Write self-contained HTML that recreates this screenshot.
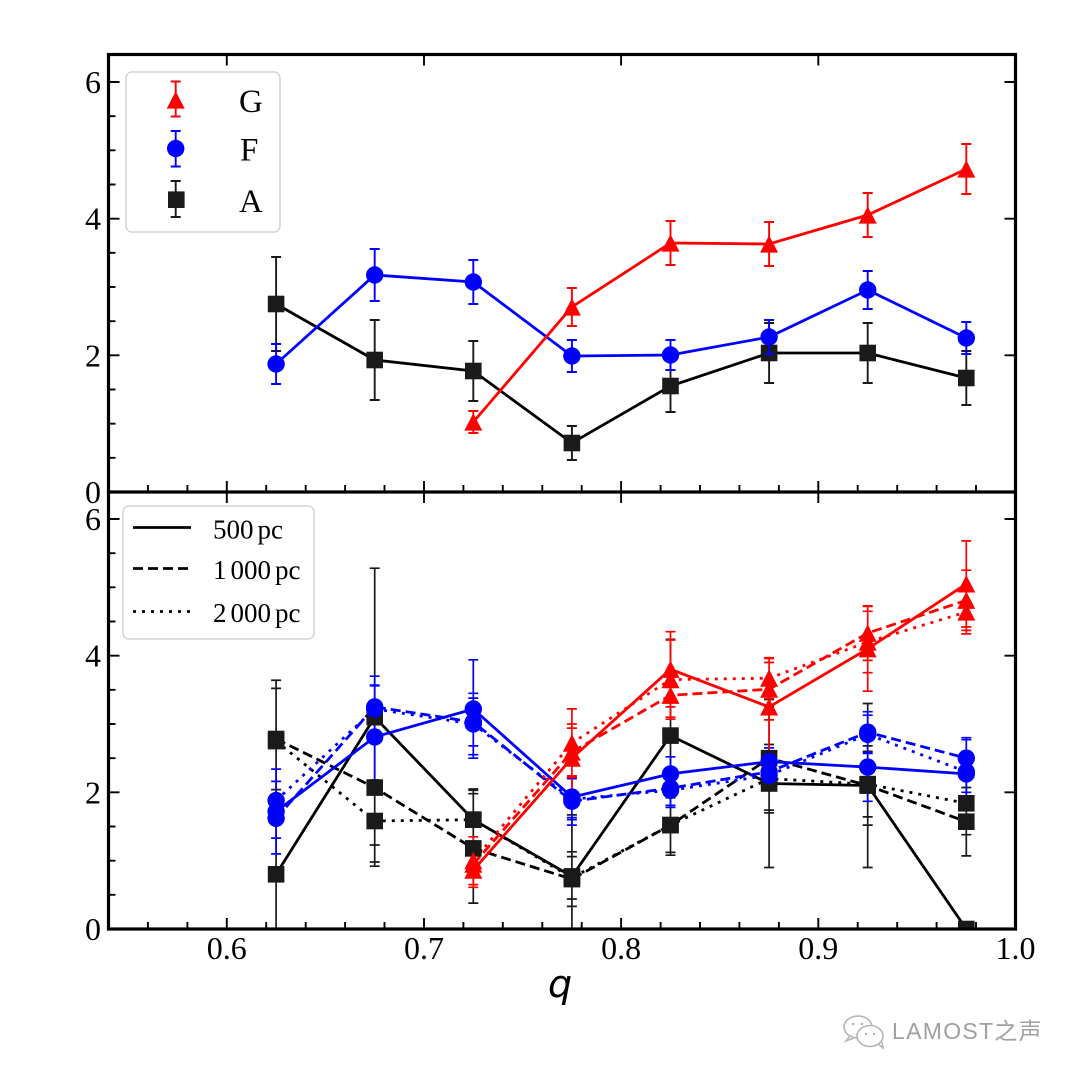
<!DOCTYPE html>
<html><head><meta charset="utf-8"><style>
html,body{margin:0;padding:0;background:#fff;}
svg{display:block;}
.tl{font-family:"Liberation Serif","DejaVu Serif",serif;font-size:32px;fill:#000;}
.lg{font-family:"Liberation Serif","DejaVu Serif",serif;font-size:27px;fill:#000;}
.lt{font-family:"Liberation Serif","DejaVu Serif",serif;font-size:33px;fill:#000;}
</style></head><body>
<svg width="1080" height="1080" viewBox="0 0 1080 1080" xmlns="http://www.w3.org/2000/svg">
<defs>
<clipPath id="cb"><rect x="108.5" y="492" width="907" height="437"/></clipPath>
<clipPath id="ct"><rect x="108.5" y="54.5" width="907" height="437.5"/></clipPath>
<rect id="sq" x="-8.3" y="-8.3" width="16.6" height="16.6" fill="#1a1a1a"/>
<circle id="ci" r="8.7" fill="#0000ff"/>
<polygon id="tr" points="0,-8.8 -9,8.6 9,8.6" fill="#ff0000"/>
</defs>
<rect width="1080" height="1080" fill="#fff"/>

<!-- TOP PANEL DATA -->
<g clip-path="url(#ct)">
<path fill="none" stroke="#1a1a1a" stroke-width="1.9" d="M276.1 257V351M271.1 257h10M271.1 351h10M374.7 320V400M369.7 320h10M369.7 400h10M473.3 341V401M468.3 341h10M468.3 401h10M571.9 426V460M566.9 426h10M566.9 460h10M670.5 360V412M665.5 360h10M665.5 412h10M769.1 323V383M764.1 323h10M764.1 383h10M867.7 323V383M862.7 323h10M862.7 383h10M966.3 351V405M961.3 351h10M961.3 405h10"/>
<polyline fill="none" stroke="#000" stroke-width="2.8" points="276.1,304 374.7,360 473.3,371 571.9,443 670.5,386 769.1,353 867.7,353 966.3,378"/>
<g><use href="#sq" x="276.1" y="304"/><use href="#sq" x="374.7" y="360"/><use href="#sq" x="473.3" y="371"/><use href="#sq" x="571.9" y="443"/><use href="#sq" x="670.5" y="386"/><use href="#sq" x="769.1" y="353"/><use href="#sq" x="867.7" y="353"/><use href="#sq" x="966.3" y="378"/></g>
<path fill="none" stroke="#0000ff" stroke-width="1.9" d="M276.1 344V384M271.1 344h10M271.1 384h10M374.7 249V301M369.7 249h10M369.7 301h10M473.3 260V304M468.3 260h10M468.3 304h10M571.9 340V372M566.9 340h10M566.9 372h10M670.5 340V370M665.5 340h10M665.5 370h10M769.1 320V354M764.1 320h10M764.1 354h10M867.7 271V309M862.7 271h10M862.7 309h10M966.3 322V354M961.3 322h10M961.3 354h10"/>
<polyline fill="none" stroke="#0000ff" stroke-width="2.8" points="276.1,364 374.7,275 473.3,282 571.9,356 670.5,355 769.1,337 867.7,290 966.3,338"/>
<g><use href="#ci" x="276.1" y="364"/><use href="#ci" x="374.7" y="275"/><use href="#ci" x="473.3" y="282"/><use href="#ci" x="571.9" y="356"/><use href="#ci" x="670.5" y="355"/><use href="#ci" x="769.1" y="337"/><use href="#ci" x="867.7" y="290"/><use href="#ci" x="966.3" y="338"/></g>
<path fill="none" stroke="#ff0000" stroke-width="1.9" d="M473.3 411V433M468.3 411h10M468.3 433h10M571.9 288V326M566.9 288h10M566.9 326h10M670.5 221V265M665.5 221h10M665.5 265h10M769.1 222V266M764.1 222h10M764.1 266h10M867.7 193V237M862.7 193h10M862.7 237h10M966.3 144V194M961.3 144h10M961.3 194h10"/>
<polyline fill="none" stroke="#ff0000" stroke-width="2.8" points="473.3,422 571.9,307 670.5,243 769.1,244 867.7,215 966.3,169"/>
<g><use href="#tr" x="473.3" y="422"/><use href="#tr" x="571.9" y="307"/><use href="#tr" x="670.5" y="243"/><use href="#tr" x="769.1" y="244"/><use href="#tr" x="867.7" y="215"/><use href="#tr" x="966.3" y="169"/></g>
</g>

<!-- BOTTOM PANEL DATA -->
<g clip-path="url(#cb)">
<path fill="none" stroke="#1a1a1a" stroke-width="1.7" d="
M276.1 680.2V935M271.1 680.2h10
M374.7 568.2V866.2M369.7 568.2h10M369.7 866.2h10
M473.3 790.3V849.1M468.3 790.3h10M468.3 849.1h10
M571.9 814.9V935M566.9 814.9h10
M670.5 639.3V831.9M665.5 639.3h10M665.5 831.9h10
M769.1 699.5V867.5M764.1 699.5h10M764.1 867.5h10
M867.7 703.5V867.5M862.7 703.5h10M862.7 867.5h10
M276.1 688.4V789.6M271.1 688.4h10M271.1 789.6h10
M374.7 730.2V845M369.7 730.2h10M369.7 845h10
M473.3 793.7V903.1M468.3 793.7h10M468.3 903.1h10
M571.9 851.8V906.4M566.9 851.8h10M566.9 906.4h10
M670.5 795V855.2M665.5 795h10M665.5 855.2h10
M769.1 706.3V810.1M764.1 706.3h10M764.1 810.1h10
M867.7 745.9V825.1M862.7 745.9h10M862.7 825.1h10
M966.3 787.5V855.9M961.3 787.5h10M961.3 855.9h10
M276.1 680.3V801.9M271.1 680.3h10M271.1 801.9h10
M374.7 780V862M369.7 780h10M369.7 862h10
M473.3 789V850.4M468.3 789h10M468.3 850.4h10
M571.9 856.6V899M566.9 856.6h10M566.9 899h10
M670.5 797.8V852.4M665.5 797.8h10M665.5 852.4h10
M769.1 744.5V812.9M764.1 744.5h10M764.1 812.9h10
M867.7 751.3V816.9M862.7 751.3h10M862.7 816.9h10
M966.3 771.9V834.7M961.3 771.9h10M961.3 834.7h10"/>
<path fill="none" stroke="#0000ff" stroke-width="1.7" d="
M276.1 769.1V853.9M271.1 769.1h10M271.1 853.9h10
M374.7 685.8V788.2M369.7 685.8h10M369.7 788.2h10
M473.3 659.8V758.2M468.3 659.8h10M468.3 758.2h10
M571.9 776.6V817.6M566.9 776.6h10M566.9 817.6h10
M670.5 756.8V791M665.5 756.8h10M665.5 791h10
M769.1 747.9V775.3M764.1 747.9h10M764.1 775.3h10
M867.7 732.9V801.3M862.7 732.9h10M862.7 801.3h10
M966.3 739.7V808.1M961.3 739.7h10M961.3 808.1h10
M276.1 798.5V838.1M271.1 798.5h10M271.1 838.1h10
M374.7 676.2V737.6M369.7 676.2h10M369.7 737.6h10
M473.3 698.1V745.9M468.3 698.1h10M468.3 745.9h10
M571.9 777.3V825.1M566.9 777.3h10M566.9 825.1h10
M670.5 771.1V805.3M665.5 771.1h10M665.5 805.3h10
M769.1 758.1V785.5M764.1 758.1h10M764.1 785.5h10
M867.7 711.7V752.7M862.7 711.7h10M862.7 752.7h10
M966.3 737.7V778.7M961.3 737.7h10M961.3 778.7h10
M276.1 781.4V819.6M271.1 781.4h10M271.1 819.6h10
M374.7 685.1V732.9M369.7 685.1h10M369.7 732.9h10
M473.3 693.3V754.7M468.3 693.3h10M468.3 754.7h10
M571.9 778.7V819.7M566.9 778.7h10M566.9 819.7h10
M670.5 773.2V807.4M665.5 773.2h10M665.5 807.4h10
M769.1 760.3V790.3M764.1 760.3h10M764.1 790.3h10
M867.7 715.2V753.4M862.7 715.2h10M862.7 753.4h10
M966.3 751.3V792.3M961.3 751.3h10M961.3 792.3h10"/>
<path fill="none" stroke="#ff0000" stroke-width="1.7" d="
M473.3 853.1V887.3M468.3 853.1h10M468.3 887.3h10
M571.9 724V792.4M566.9 724h10M566.9 792.4h10
M670.5 631.7V706.9M665.5 631.7h10M665.5 706.9h10
M769.1 662.5V751.3M764.1 662.5h10M764.1 751.3h10
M867.7 606.4V691.2M862.7 606.4h10M862.7 691.2h10
M966.3 540.9V626.9M961.3 540.9h10M961.3 626.9h10
M473.3 843.6V884.6M468.3 843.6h10M468.3 884.6h10
M571.9 728.1V775.9M566.9 728.1h10M566.9 775.9h10
M670.5 673.4V717.2M665.5 673.4h10M665.5 717.2h10
M769.1 658.5V719.9M764.1 658.5h10M764.1 719.9h10
M867.7 605.8V660.4M862.7 605.8h10M862.7 660.4h10
M966.3 570.2V630.4M961.3 570.2h10M961.3 630.4h10
M473.3 836.8V884.6M468.3 836.8h10M468.3 884.6h10
M571.9 708.9V777.3M566.9 708.9h10M566.9 777.3h10
M670.5 640V719.2M665.5 640h10M665.5 719.2h10
M769.1 657.7V698.7M764.1 657.7h10M764.1 698.7h10
M867.7 611.3V672.7M862.7 611.3h10M862.7 672.7h10
M966.3 590.1V633.9M961.3 590.1h10M961.3 633.9h10"/>

<polyline fill="none" stroke="#000" stroke-width="2.8" points="276.1,874.3 374.7,717.2 473.3,819.7 571.9,876.4 670.5,735.6 769.1,783.5 867.7,785.5 966.3,929"/>
<polyline fill="none" stroke="#000" stroke-width="2.8" stroke-dasharray="10,5" points="276.1,739 374.7,787.6 473.3,848.4 571.9,879.1 670.5,825.1 769.1,758.2 867.7,785.5 966.3,821.7"/>
<polyline fill="none" stroke="#000" stroke-width="2.8" stroke-dasharray="3,6" points="276.1,741.1 374.7,821 473.3,819.7 571.9,877.8 670.5,825.1 769.1,778.7 867.7,784.1 966.3,803.3"/>
<polyline fill="none" stroke="#0000ff" stroke-width="2.8" points="276.1,811.5 374.7,737 473.3,709 571.9,797.1 670.5,773.9 769.1,761.6 867.7,767.1 966.3,773.9"/>
<polyline fill="none" stroke="#0000ff" stroke-width="2.8" stroke-dasharray="10,5" points="276.1,818.3 374.7,706.9 473.3,722 571.9,801.2 670.5,788.2 769.1,771.8 867.7,732.2 966.3,758.2"/>
<polyline fill="none" stroke="#0000ff" stroke-width="2.8" stroke-dasharray="3,6" points="276.1,800.5 374.7,709 473.3,724 571.9,799.2 670.5,790.3 769.1,775.3 867.7,734.3 966.3,771.8"/>
<polyline fill="none" stroke="#ff0000" stroke-width="2.8" points="473.3,870.2 571.9,758.2 670.5,669.3 769.1,706.9 867.7,648.8 966.3,583.9"/>
<polyline fill="none" stroke="#ff0000" stroke-width="2.8" stroke-dasharray="10,5" points="473.3,864.1 571.9,752 670.5,695.3 769.1,689.2 867.7,633.1 966.3,600.3"/>
<polyline fill="none" stroke="#ff0000" stroke-width="2.8" stroke-dasharray="3,6" points="473.3,860.7 571.9,743.1 670.5,679.6 769.1,678.2 867.7,642 966.3,612"/>

<g>
<use href="#sq" x="276.1" y="874.3"/><use href="#sq" x="374.7" y="717.2"/><use href="#sq" x="473.3" y="819.7"/><use href="#sq" x="571.9" y="876.4"/><use href="#sq" x="670.5" y="735.6"/><use href="#sq" x="769.1" y="783.5"/><use href="#sq" x="867.7" y="785.5"/><use href="#sq" x="966.3" y="929"/>
<use href="#sq" x="276.1" y="739"/><use href="#sq" x="374.7" y="787.6"/><use href="#sq" x="473.3" y="848.4"/><use href="#sq" x="571.9" y="879.1"/><use href="#sq" x="670.5" y="825.1"/><use href="#sq" x="769.1" y="758.2"/><use href="#sq" x="867.7" y="785.5"/><use href="#sq" x="966.3" y="821.7"/>
<use href="#sq" x="276.1" y="741.1"/><use href="#sq" x="374.7" y="821"/><use href="#sq" x="473.3" y="819.7"/><use href="#sq" x="571.9" y="877.8"/><use href="#sq" x="670.5" y="825.1"/><use href="#sq" x="769.1" y="778.7"/><use href="#sq" x="867.7" y="784.1"/><use href="#sq" x="966.3" y="803.3"/>
</g>
<g>
<use href="#ci" x="276.1" y="811.5"/><use href="#ci" x="374.7" y="737"/><use href="#ci" x="473.3" y="709"/><use href="#ci" x="571.9" y="797.1"/><use href="#ci" x="670.5" y="773.9"/><use href="#ci" x="769.1" y="761.6"/><use href="#ci" x="867.7" y="767.1"/><use href="#ci" x="966.3" y="773.9"/>
<use href="#ci" x="276.1" y="818.3"/><use href="#ci" x="374.7" y="706.9"/><use href="#ci" x="473.3" y="722"/><use href="#ci" x="571.9" y="801.2"/><use href="#ci" x="670.5" y="788.2"/><use href="#ci" x="769.1" y="771.8"/><use href="#ci" x="867.7" y="732.2"/><use href="#ci" x="966.3" y="758.2"/>
<use href="#ci" x="276.1" y="800.5"/><use href="#ci" x="374.7" y="709"/><use href="#ci" x="473.3" y="724"/><use href="#ci" x="571.9" y="799.2"/><use href="#ci" x="670.5" y="790.3"/><use href="#ci" x="769.1" y="775.3"/><use href="#ci" x="867.7" y="734.3"/><use href="#ci" x="966.3" y="771.8"/>
</g>
<g>
<use href="#tr" x="473.3" y="870.2"/><use href="#tr" x="571.9" y="758.2"/><use href="#tr" x="670.5" y="669.3"/><use href="#tr" x="769.1" y="706.9"/><use href="#tr" x="867.7" y="648.8"/><use href="#tr" x="966.3" y="583.9"/>
<use href="#tr" x="473.3" y="864.1"/><use href="#tr" x="571.9" y="752"/><use href="#tr" x="670.5" y="695.3"/><use href="#tr" x="769.1" y="689.2"/><use href="#tr" x="867.7" y="633.1"/><use href="#tr" x="966.3" y="600.3"/>
<use href="#tr" x="473.3" y="860.7"/><use href="#tr" x="571.9" y="743.1"/><use href="#tr" x="670.5" y="679.6"/><use href="#tr" x="769.1" y="678.2"/><use href="#tr" x="867.7" y="642"/><use href="#tr" x="966.3" y="612"/>
</g>
</g>

<!-- TICKS -->
<g fill="none" stroke="#000" stroke-width="1.9">
<path d="M108.5 82h11M108.5 218.7h11M108.5 355.3h11M108.5 519h11M108.5 655.7h11M108.5 792.3h11"/>
<path d="M108.5 116.2h7M108.5 150.3h7M108.5 184.5h7M108.5 252.8h7M108.5 287h7M108.5 321.2h7M108.5 389.5h7M108.5 423.7h7M108.5 457.8h7M108.5 553.2h7M108.5 587.3h7M108.5 621.5h7M108.5 689.8h7M108.5 724h7M108.5 758.2h7M108.5 826.5h7M108.5 860.7h7M108.5 894.8h7"/>
<path d="M1015.5 82h-11M1015.5 218.7h-11M1015.5 355.3h-11M1015.5 519h-11M1015.5 655.7h-11M1015.5 792.3h-11"/>
<path d="M226.8 54.5v11M424 54.5v11M621.1 54.5v11M818.3 54.5v11M226.8 492v11M424 492v11M621.1 492v11M818.3 492v11"/>
<path d="M226.8 492v-11M424 492v-11M621.1 492v-11M818.3 492v-11M226.8 929v-11M424 929v-11M621.1 929v-11M818.3 929v-11"/>
<path d="M147.9 492v-7M187.4 492v-7M266.2 492v-7M305.7 492v-7M345.1 492v-7M384.5 492v-7M463.4 492v-7M502.8 492v-7M542.3 492v-7M581.7 492v-7M660.6 492v-7M700 492v-7M739.4 492v-7M778.9 492v-7M857.7 492v-7M897.2 492v-7M936.6 492v-7M976 492v-7
M147.9 929v-7M187.4 929v-7M266.2 929v-7M305.7 929v-7M345.1 929v-7M384.5 929v-7M463.4 929v-7M502.8 929v-7M542.3 929v-7M581.7 929v-7M660.6 929v-7M700 929v-7M739.4 929v-7M778.9 929v-7M857.7 929v-7M897.2 929v-7M936.6 929v-7M976 929v-7"/>
</g>

<rect x="108.5" y="54.5" width="907" height="874.5" fill="none" stroke="#000" stroke-width="3.2"/>
<line x1="108.5" y1="492" x2="1015.5" y2="492" stroke="#000" stroke-width="3.2"/>

<g class="tl" text-anchor="end">
<text x="101" y="93">6</text>
<text x="101" y="229.7">4</text>
<text x="101" y="366.3">2</text>
<text x="101" y="503">0</text>
<text x="101" y="530">6</text>
<text x="101" y="666.7">4</text>
<text x="101" y="803.3">2</text>
<text x="101" y="940">0</text>
</g>
<g class="tl" text-anchor="middle">
<text x="226.8" y="959">0.6</text>
<text x="424" y="959">0.7</text>
<text x="621.1" y="959">0.8</text>
<text x="818.3" y="959">0.9</text>
<text x="1015.5" y="959">1.0</text>
</g>
<text x="560" y="997" text-anchor="middle" style="font-family:'DejaVu Sans','Liberation Sans',sans-serif;font-style:italic;font-size:38px;">q</text>

<!-- TOP LEGEND -->
<rect x="126" y="72" width="154" height="160" rx="6" ry="6" fill="#fff" fill-opacity="0.85" stroke="#d4d4d4" stroke-width="1.5"/>
<path fill="none" stroke="#ff0000" stroke-width="1.9" d="M175.7 81.5V116.5M170.7 81.5h10M170.7 116.5h10"/>
<use href="#tr" x="175.7" y="100"/>
<path fill="none" stroke="#0000ff" stroke-width="1.9" d="M175.7 131V166.5M170.7 131h10M170.7 166.5h10"/>
<use href="#ci" x="175.7" y="148.5"/>
<path fill="none" stroke="#1a1a1a" stroke-width="1.9" d="M175.7 181V217M170.7 181h10M170.7 217h10"/>
<use href="#sq" x="176.3" y="199.7"/>
<text class="lt" x="239" y="112">G</text>
<text class="lt" x="240" y="160.5">F</text>
<text class="lt" x="239" y="212">A</text>

<!-- BOTTOM LEGEND -->
<rect x="123" y="506" width="191" height="133" rx="6" ry="6" fill="#fff" fill-opacity="0.85" stroke="#d4d4d4" stroke-width="1.5"/>
<line x1="133" y1="527.5" x2="191" y2="527.5" stroke="#000" stroke-width="2.8"/>
<line x1="133" y1="568.5" x2="191" y2="568.5" stroke="#000" stroke-width="2.8" stroke-dasharray="10,5"/>
<line x1="133" y1="611.5" x2="191" y2="611.5" stroke="#000" stroke-width="2.8" stroke-dasharray="3,6"/>
<text class="lg" x="213" y="538.5">500<tspan dx="4">pc</tspan></text>
<text class="lg" x="213" y="579">1<tspan dx="4">000</tspan><tspan dx="4">pc</tspan></text>
<text class="lg" x="213" y="622">2<tspan dx="4">000</tspan><tspan dx="4">pc</tspan></text>

<!-- WATERMARK -->
<g fill="none" stroke="#b5b5b5" stroke-width="1.6">
<ellipse cx="858" cy="1027" rx="14" ry="11"/>
<ellipse cx="870" cy="1036" rx="13" ry="10.5" fill="#fff"/>
<path d="M850 1036l-4 5l8 -3"/>
<path d="M878 1044l5 4l-1 -6"/>
</g>
<g fill="#b5b5b5">
<circle cx="853" cy="1024" r="1.3"/><circle cx="862" cy="1024" r="1.3"/>
<circle cx="866" cy="1034" r="1.2"/><circle cx="874" cy="1034" r="1.2"/>
</g>
<text x="892" y="1039" style="font-family:'Liberation Sans','Noto Sans CJK SC',sans-serif;font-size:23px;letter-spacing:1.3px;fill:#a0a0a0;">LAMOST之声</text>
</svg>
</body></html>
